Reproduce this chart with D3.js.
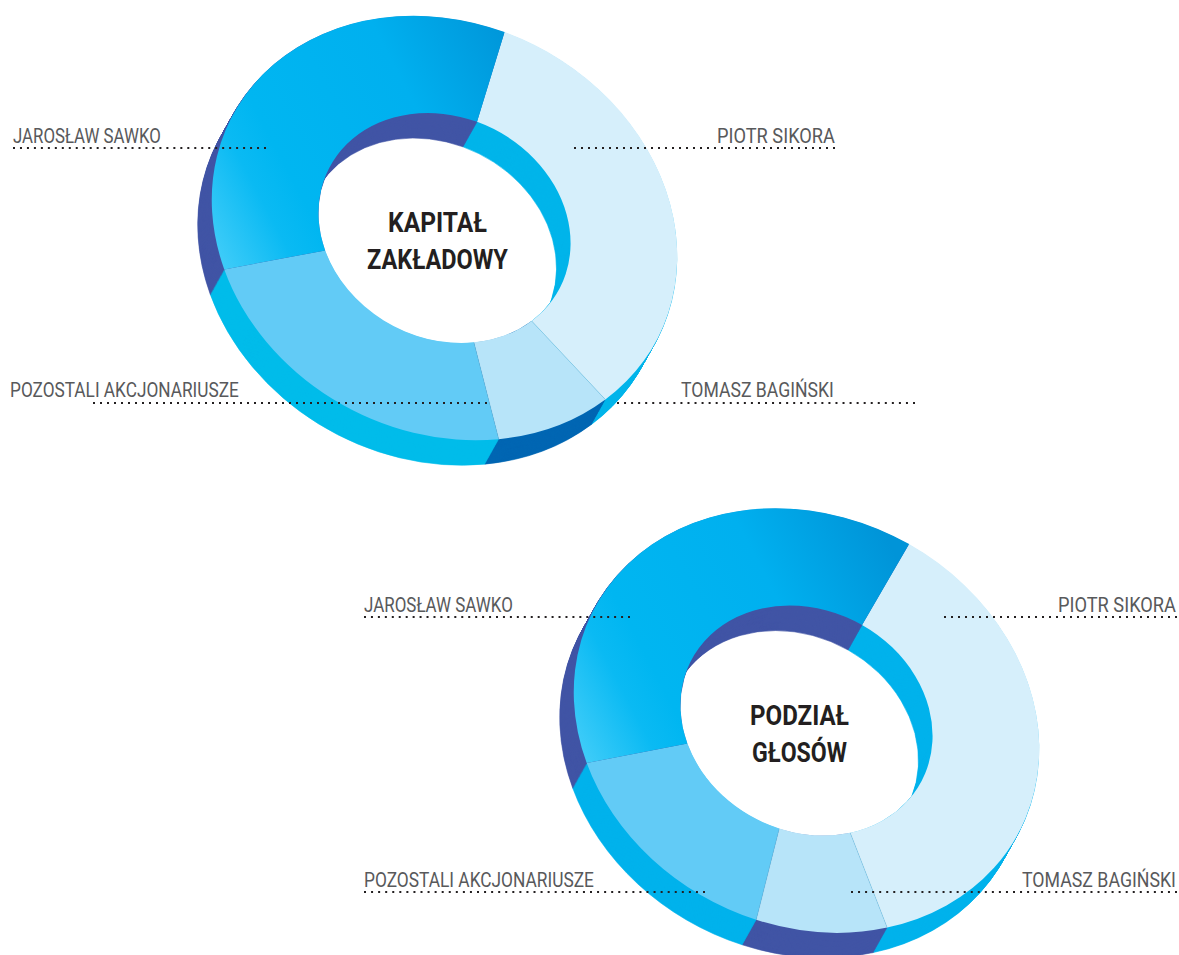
<!DOCTYPE html>
<html><head><meta charset="utf-8">
<script src="https://cdnjs.cloudflare.com/ajax/libs/d3/7.8.5/d3.min.js"></script>
<style>html,body{margin:0;padding:0;background:#fff;overflow:hidden}svg{display:block}</style>
</head><body>
<script>
// Data
const holders = ["PIOTR SIKORA", "TOMASZ BAGIŃSKI", "POZOSTALI AKCJONARIUSZE", "JAROSŁAW SAWKO"];
const capitalShares = [33.7, 8.4, 23.5, 34.4];
const voteShares = [37.1, 9.1, 16.2, 37.6];
const capitalTitle = ["KAPITAŁ", "ZAKŁADOWY"];
const voteTitle = ["PODZIAŁ", "GŁOSÓW"];

// Styling and layout
const W = 1179, H = 955;
const outerR = 240, innerR = 130, squash = 0.85, tilt = 27.6;
const depth = {dx: -14, dy: 25};
const faceColors = ["#D6EFFB", "#B7E4F9", "#62CBF6", null];
const charts = [
  {id: "a", cx: 444.5, cy: 228, start: -9, shares: capitalShares, title: capitalTitle,
   sideColors: ["#00B5EA", "#0066B3", "#00BCEA", "#4155A5"],
   titlePos: [[437.5, 232, 99], [437.5, 269, 141]],
   labels: [
     {i: 3, x: 13, w: 148, base: 143, x0: 13, x1: 266, y: 148},
     {i: 0, x: 717, w: 118, base: 143, x0: 574, x1: 835, y: 148},
     {i: 2, x: 10, w: 229, base: 397, x0: 93, x1: 487, y: 403},
     {i: 1, x: 681, w: 153, base: 397, x0: 617, x1: 915, y: 403}
   ]},
  {id: "b", cx: 806.5, cy: 720.5, start: 2.2, shares: voteShares, title: voteTitle,
   sideColors: ["#00B2EC", "#4155A5", "#00B2EC", "#4155A5"],
   titlePos: [[799.5, 725, 99], [799.5, 762, 95]],
   labels: [
     {i: 3, x: 364, w: 149, base: 612, x0: 364, x1: 630, y: 617},
     {i: 0, x: 1058, w: 118, base: 612, x0: 944, x1: 1177, y: 617},
     {i: 2, x: 364, w: 230, base: 887, x0: 364, x1: 705, y: 892},
     {i: 1, x: 1022, w: 154, base: 887, x0: 851, x1: 1177, y: 892}
   ]}
];

const svg = d3.select("body").append("svg").attr("width", W).attr("height", H);
const defs = svg.append("defs");
const arc = d3.arc().innerRadius(innerR).outerRadius(outerR);
const rad = d => d * Math.PI / 180;

// text squeezed horizontally to the measured width of the reference's condensed face
function fitText(sel, width) {
  const natural = sel.node().getComputedTextLength();
  const x = +sel.attr("x"), y = +sel.attr("y");
  const anchorShift = sel.attr("text-anchor") === "middle" ? 0 : 0;
  sel.attr("x", null).attr("y", null)
     .attr("transform", `translate(${x + anchorShift},${y}) scale(${width / natural},1)`);
}

charts.forEach(c => {
  const grad = defs.append("linearGradient").attr("id", "G" + c.id)
    .attr("gradientUnits", "userSpaceOnUse")
    .attr("x1", -232).attr("y1", 12).attr("x2", 92).attr("y2", -160)
    .attr("gradientTransform", `scale(1,${1 / squash}) rotate(${-tilt})`);
  [[0, "#3CCBF8"], [0.17, "#0ABAF3"], [0.27, "#00B6F1"], [0.66, "#00B0EF"], [1, "#0094D8"]]
    .forEach(([o, col]) => grad.append("stop").attr("offset", o).attr("stop-color", col));

  const pie = d3.pie().sort(null).value(d => d)
    .startAngle(rad(c.start)).endAngle(rad(c.start + 360));
  const slices = pie(c.shares);
  const place = k => `translate(${c.cx + depth.dx * k},${c.cy + depth.dy * k}) rotate(${tilt}) scale(1,${squash})`;

  // extruded wall: stacked layers of the ring, furthest first
  const g = svg.append("g");
  d3.range(30, 0, -1).map(s => s / 30).forEach(k => {
    g.append("g").attr("transform", place(k)).selectAll("path").data(slices).join("path")
      .attr("d", arc).attr("fill", (d, i) => c.sideColors[i])
      .attr("stroke", (d, i) => c.sideColors[i]).attr("stroke-width", 0.6);
  });

  // top face
  const top = g.append("g").attr("transform", place(0));
  top.selectAll("path").data(slices).join("path")
    .attr("d", arc)
    .attr("fill", (d, i) => faceColors[i] || `url(#G${c.id})`);
  // hairline seams between the pale slices
  top.selectAll("line").data(slices.slice(1, 3)).join("line")
    .attr("x1", d => innerR * Math.cos(d.startAngle - Math.PI / 2))
    .attr("y1", d => innerR * Math.sin(d.startAngle - Math.PI / 2))
    .attr("x2", d => outerR * Math.cos(d.startAngle - Math.PI / 2))
    .attr("y2", d => outerR * Math.sin(d.startAngle - Math.PI / 2))
    .attr("stroke", "#6f9fbd").attr("stroke-opacity", 0.45).attr("stroke-width", 0.6);

  // centre title
  c.title.forEach((t, i) => {
    const [x, y, w] = c.titlePos[i];
    svg.append("text").text(t).attr("x", x).attr("y", y)
      .attr("text-anchor", "middle")
      .attr("font-family", "Roboto, sans-serif").attr("font-weight", 700)
      .attr("font-size", 28).attr("fill", "#231F20")
      .call(fitText, w);
  });

  // leader lines and labels
  c.labels.forEach(l => {
    const len = l.x1 - l.x0 - 2;
    const gap = len / Math.round(len / 7) - 2;
    svg.append("line").attr("x1", l.x0).attr("x2", l.x1).attr("y1", l.y).attr("y2", l.y)
      .attr("stroke", "#231F20").attr("stroke-width", 2).attr("stroke-dasharray", `2 ${gap}`);
    svg.append("text").text(holders[l.i]).attr("x", l.x).attr("y", l.base)
      .attr("font-family", "Roboto, sans-serif").attr("font-weight", 400)
      .attr("font-size", 21).attr("fill", "#58595B")
      .call(fitText, l.w);
  });
});
</script>
</body></html>
